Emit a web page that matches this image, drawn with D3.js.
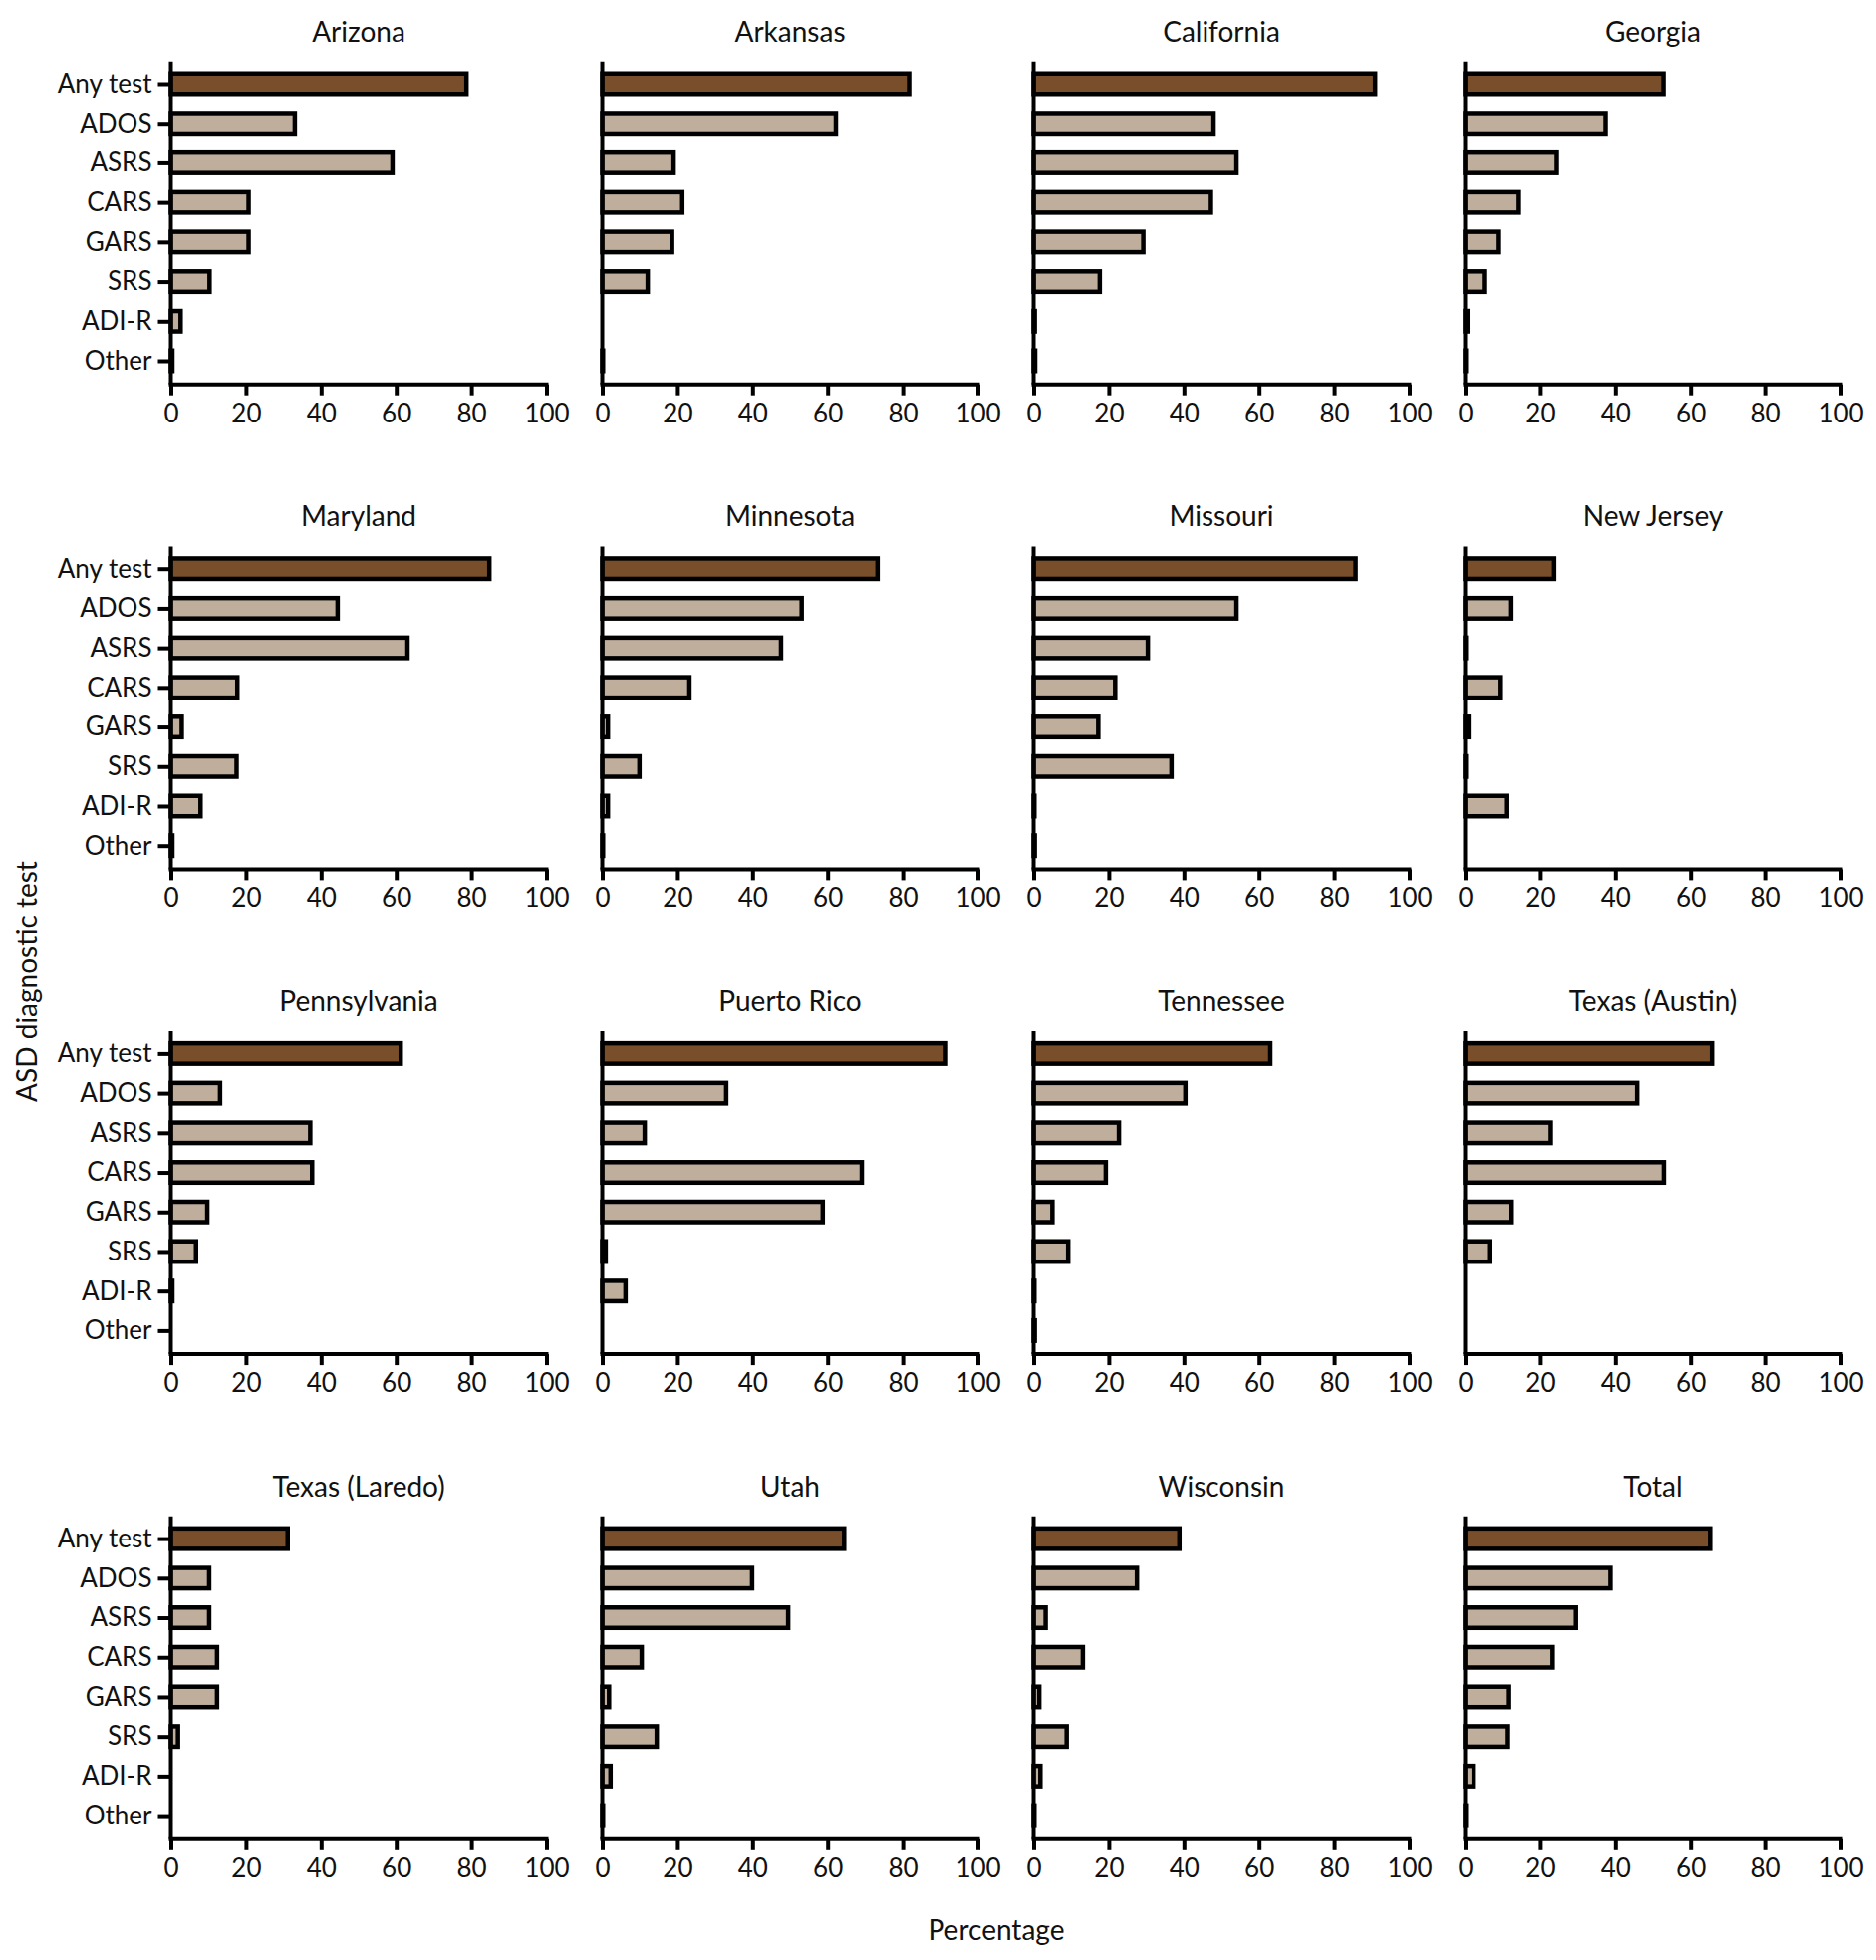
<!DOCTYPE html>
<html>
<head>
<meta charset="utf-8">
<script src="https://cdn.jsdelivr.net/npm/d3@7"></script>
<style>
  html, body { margin: 0; padding: 0; background: #fff; }
  svg text { font-family: "Lato", "Open Sans", sans-serif; fill: #111; }
</style>
</head>
<body>
<svg id="chart" width="1883" height="1967"></svg>
<script>
// ---- Data (percentages) ----
const categories = ["Any test", "ADOS", "ASRS", "CARS", "GARS", "SRS", "ADI-R", "Other"];
const xTicks = [0, 20, 40, 60, 80, 100];

const arizona      = [78.7, 33.0, 59.0, 20.7, 20.7, 10.3, 2.6, 0.4];
const arkansas     = [81.7, 62.2, 19.0, 21.3, 18.6, 12.1, 0, 0.2];
const california   = [90.9, 47.9, 54.0, 47.2, 29.2, 17.6, 0.3, 0.4];
const georgia      = [52.8, 37.4, 24.4, 14.3, 9.0, 5.3, 0.6, 0.2];
const maryland     = [84.8, 44.4, 63.0, 17.7, 2.9, 17.5, 7.9, 0.4];
const minnesota    = [73.3, 53.1, 47.6, 23.2, 1.5, 9.9, 1.5, 0.2];
const missouri     = [85.7, 54.0, 30.4, 21.7, 17.2, 36.7, 0.2, 0.3];
const newJersey    = [23.7, 12.3, 0.2, 9.5, 0.9, 0.2, 11.2, 0];
const pennsylvania = [61.2, 13.1, 37.1, 37.6, 9.7, 6.7, 0.4, 0];
const puertoRico   = [91.5, 33.0, 11.3, 69.1, 58.7, 0.9, 6.2, 0];
const tennessee    = [63.0, 40.4, 22.7, 19.2, 5.0, 9.2, 0.2, 0.3];
const texasAustin  = [65.7, 45.8, 22.8, 52.9, 12.4, 6.7, 0, 0];
const texasLaredo  = [31.1, 10.2, 10.2, 12.3, 12.3, 1.9, 0, 0];
const utah         = [64.4, 39.9, 49.5, 10.5, 1.8, 14.5, 2.2, 0.2];
const wisconsin    = [38.8, 27.5, 3.2, 13.1, 1.5, 8.8, 1.8, 0.2];
const total        = [65.2, 38.7, 29.5, 23.3, 11.7, 11.4, 2.3, 0.2];

const panelNames = ["Arizona", "Arkansas", "California", "Georgia",
                    "Maryland", "Minnesota", "Missouri", "New Jersey",
                    "Pennsylvania", "Puerto Rico", "Tennessee", "Texas (Austin)",
                    "Texas (Laredo)", "Utah", "Wisconsin", "Total"];
const panelValues = [arizona, arkansas, california, georgia,
                     maryland, minnesota, missouri, newJersey,
                     pennsylvania, puertoRico, tennessee, texasAustin,
                     texasLaredo, utah, wisconsin, total];

// ---- Layout ----
const colStart = 171.5, colStep = 433, plotW = 377;
const rowAxis0 = 385.7, rowStep = 486.7;
const darkFill = "#794F2B", lightFill = "#C0AE9D";
const lw = 4, barLw = 4.5, barH = 20.5;

const svg = d3.select("#chart");

panelNames.forEach((name, i) => {
  const c = i % 4, r = Math.floor(i / 4);
  const x0 = colStart + c * colStep;
  const axisY = rowAxis0 + r * rowStep;
  const values = panelValues[i];

  const x = d3.scaleLinear().domain([0, 100]).range([x0, x0 + plotW]);
  const y = d3.scalePoint().domain(categories).range([axisY - 301.7, axisY - 23.7]);

  const g = svg.append("g");

  // title
  g.append("text")
    .attr("x", x0 + plotW / 2)
    .attr("y", axisY - 344)
    .attr("text-anchor", "middle")
    .style("font-size", "28px")
    .text(name);

  // bars
  const rows = categories.map((k, j) => ({ cat: k, v: values[j], idx: j })).filter(d => d.v > 0);
  g.selectAll("rect.bar").data(rows).enter().append("rect")
    .attr("class", "bar")
    .attr("x", x(0))
    .attr("y", d => y(d.cat) - barH / 2)
    .attr("width", d => x(d.v) - x(0))
    .attr("height", barH)
    .attr("fill", d => d.idx === 0 ? darkFill : lightFill)
    .attr("stroke", "#000")
    .attr("stroke-width", barLw);

  // x axis
  const xa = g.append("g")
    .attr("transform", `translate(0,${axisY})`)
    .call(d3.axisBottom(x).tickValues(xTicks).tickSize(11).tickSizeOuter(0).tickPadding(8.5));
  xa.select(".domain").remove();
  xa.selectAll(".tick line").attr("stroke", "#000").attr("stroke-width", lw);
  xa.selectAll(".tick text").style("font-size", "26px").attr("fill", "#111");
  xa.append("line")
    .attr("x1", x(0) - lw / 2).attr("x2", x(100) + lw / 2)
    .attr("y1", 0).attr("y2", 0)
    .attr("stroke", "#000").attr("stroke-width", lw);

  // y axis
  const ya = g.append("g").attr("transform", `translate(${x0},0)`);
  if (c === 0) {
    ya.call(d3.axisLeft(y).tickSize(13).tickPadding(6).tickSizeOuter(0));
    ya.selectAll(".tick line").attr("stroke", "#000").attr("stroke-width", lw);
    ya.selectAll(".tick text").style("font-size", "26px").attr("fill", "#111");
  }
  ya.select(".domain").remove();
  ya.append("line")
    .attr("x1", 0).attr("x2", 0)
    .attr("y1", axisY - 324).attr("y2", axisY)
    .attr("stroke", "#000").attr("stroke-width", lw);
});

// axis titles
svg.append("text")
  .attr("transform", "translate(37,985) rotate(-90)")
  .attr("text-anchor", "middle")
  .style("font-size", "28px")
  .text("ASD diagnostic test");

svg.append("text")
  .attr("x", 1000)
  .attr("y", 1947)
  .attr("text-anchor", "middle")
  .style("font-size", "28px")
  .text("Percentage");
</script>
</body>
</html>
